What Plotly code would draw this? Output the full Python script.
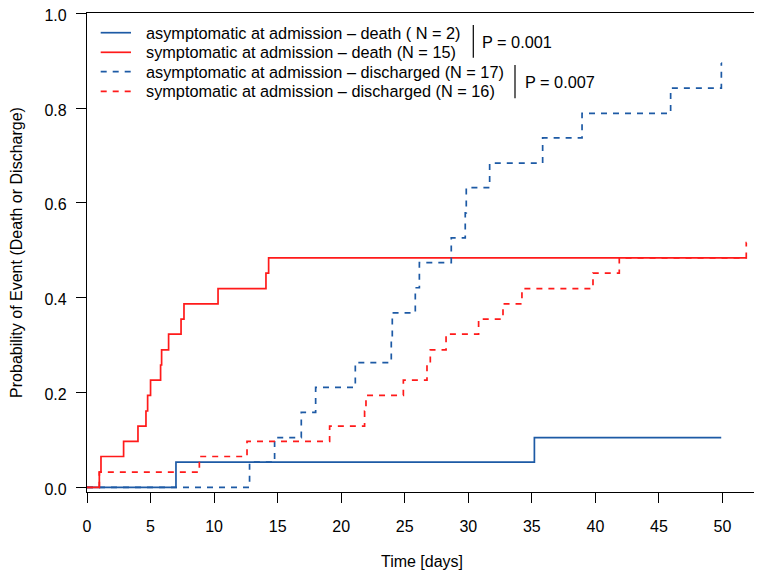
import plotly.graph_objects as go

# ---------------- data ----------------
asym_death_t = [7.0, 35.2]
asym_death_p = [0.053, 0.105]

sym_death_t = [0.97, 1.10, 2.88, 4.01, 4.64, 4.77, 5.00, 5.79, 5.87, 6.42, 7.40, 7.63, 10.31, 14.08, 14.29]
sym_death_p = [0.032, 0.065, 0.097, 0.129, 0.161, 0.194, 0.226, 0.258, 0.290, 0.323, 0.355, 0.387, 0.419, 0.452, 0.484]

asym_dis_t = [12.79, 14.76, 16.86, 17.99, 21.11, 23.94, 24.02, 25.83, 26.15, 28.66, 29.76, 29.84, 31.68, 35.85, 38.95, 45.92, 49.91]
asym_dis_p = [0.053, 0.105, 0.158, 0.211, 0.263, 0.316, 0.368, 0.421, 0.474, 0.526, 0.579, 0.632, 0.684, 0.737, 0.789, 0.842, 0.895]

sym_dis_t = [0.97, 8.84, 12.59, 19.09, 21.84, 21.95, 24.89, 26.75, 27.01, 28.25, 30.81, 32.73, 34.22, 39.81, 41.88, 51.87]
sym_dis_p = [0.032, 0.065, 0.097, 0.129, 0.161, 0.194, 0.226, 0.258, 0.290, 0.323, 0.355, 0.387, 0.419, 0.452, 0.484, 0.516]

asym_end = 49.9   # last follow-up time, asymptomatic group
sym_end = 51.9    # last follow-up time, symptomatic group

series_names = [
    "asymptomatic at admission \u2013 death ( N = 2)",
    "symptomatic at admission \u2013 death (N = 15)",
    "asymptomatic at admission \u2013 discharged (N = 17)",
    "symptomatic at admission \u2013 discharged (N = 16)",
]
p_values = ["P = 0.001", "P = 0.007"]

x_ticks = [0, 5, 10, 15, 20, 25, 30, 35, 40, 45, 50]
y_ticks = [0.0, 0.2, 0.4, 0.6, 0.8, 1.0]
y_tick_text = ["0.0", "0.2", "0.4", "0.6", "0.8", "1.0"]

# ---------------- styling ----------------
BLUE = "#1d5aa5"
RED = "#ff1a1a"
DASH = "6px,6px"
FONT = "Liberation Sans, Arial, Helvetica, sans-serif"

PAGE_OFF = 8              # default page margin around the plot div
W, H = 762 - PAGE_OFF, 573 - PAGE_OFF
# plot area in page pixels: left 87, right 757, top 13, bottom 492
L, T = 87 - PAGE_OFF, 13 - PAGE_OFF
R = W - (757 - PAGE_OFF)
B = H - (492 - PAGE_OFF)
PLOT_W = W - L - R
PX_PER_DAY = 12.71


def px(xp_page):
    return (xp_page - PAGE_OFF - L) / PLOT_W


def py(yp_page):
    return (H - B - (yp_page - PAGE_OFF)) / (H - T - B)


def curve(t, p, end):
    return [0.0] + list(t) + [end], [0.0] + list(p) + [p[-1]]


fig = go.Figure()
specs = [
    (asym_death_t, asym_death_p, asym_end, BLUE, "solid"),
    (sym_death_t, sym_death_p, sym_end, RED, "solid"),
    (asym_dis_t, asym_dis_p, asym_end, BLUE, DASH),
    (sym_dis_t, sym_dis_p, sym_end, RED, DASH),
]
for (t, p, end, col, dash), name in zip(specs, series_names):
    xs, ys = curve(t, p, end)
    fig.add_trace(go.Scatter(
        x=xs, y=ys, mode="lines", name=name, showlegend=False,
        line=dict(shape="hv", color=col, width=1.7, dash=dash),
    ))

# ---------------- manual legend (R style) ----------------
shapes = []
annotations = []
legend_y = [32.7, 52.3, 71.7, 91.3]
for (t, p, end, col, dash), name, yc in zip(specs, series_names, legend_y):
    shapes.append(dict(type="line", xref="paper", yref="paper",
                       x0=px(100.7), x1=px(131), y0=py(yc), y1=py(yc),
                       line=dict(color=col, width=1.7, dash=dash)))
    annotations.append(dict(xref="paper", yref="paper", x=px(143.7), y=py(yc),
                            text=name, showarrow=False, xanchor="left", yanchor="middle",
                            font=dict(size=16.3, color="black", family=FONT)))

# p-value brackets
for xb, y0, y1, ytxt, xtxt, txt in [
    (473.3, 25, 57.7, 41.7, 479.7, p_values[0]),
    (515.0, 65, 98.3, 81.7, 523.0, p_values[1]),
]:
    shapes.append(dict(type="line", xref="paper", yref="paper",
                       x0=px(xb), x1=px(xb), y0=py(y0), y1=py(y1),
                       line=dict(color="black", width=1.2)))
    annotations.append(dict(xref="paper", yref="paper", x=px(xtxt), y=py(ytxt),
                            text=txt, showarrow=False, xanchor="left", yanchor="middle",
                            font=dict(size=16.3, color="black", family=FONT)))

axis_common = dict(
    showline=True, linecolor="black", linewidth=1.2, mirror=True,
    ticks="outside", ticklen=10, tickwidth=1.2, tickcolor="black",
    showgrid=False, zeroline=False, ticklabeloverflow="allow",
    tickfont=dict(size=16, color="black", family=FONT),
)

fig.update_layout(
    width=W, height=H,
    margin=dict(l=L, r=R, t=T, b=B, autoexpand=False),
    paper_bgcolor="white", plot_bgcolor="white",
    font=dict(family=FONT, size=16, color="black"),
    shapes=shapes, annotations=annotations,
    xaxis=dict(
        range=[0, PLOT_W / PX_PER_DAY], tickvals=x_ticks,
        title=dict(text="Time [days]", font=dict(size=16, family=FONT), standoff=21),
        ticklabelstandoff=10,
        **axis_common,
    ),
    yaxis=dict(
        range=[-0.0099, 1.0006], tickvals=y_ticks, ticktext=y_tick_text,
        title=dict(text="Probability of Event (Death or Discharge)", font=dict(size=16, family=FONT), standoff=18),
        ticklabelstandoff=6, ticklabelshift=2,
        **axis_common,
    ),
    showlegend=False,
)

fig.write_html("out.html")
